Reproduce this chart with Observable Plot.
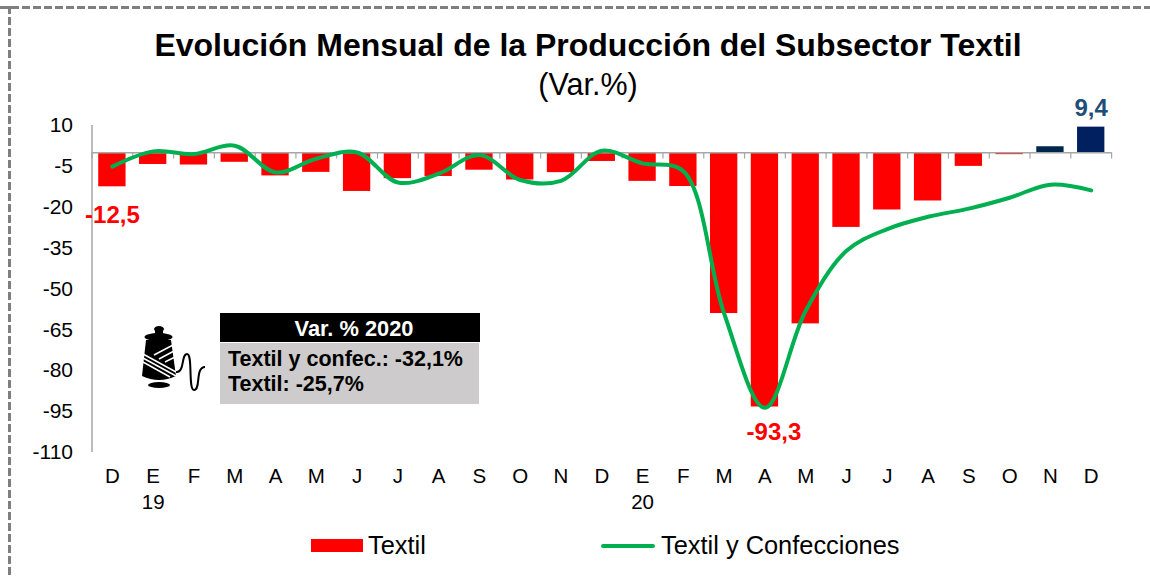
<!DOCTYPE html>
<html lang="es">
<head>
<meta charset="utf-8">
<script src="https://cdn.jsdelivr.net/npm/d3@7"></script>
<script src="https://cdn.jsdelivr.net/npm/@observablehq/plot@0.6"></script>
<style>
html,body{margin:0;padding:0;background:#fff;width:1150px;height:578px;overflow:hidden;font-family:"Liberation Sans",Arial,sans-serif;color:#000}
#page{position:relative;width:1150px;height:578px;overflow:hidden}
#head{position:absolute;left:0;top:0;width:1176px;height:100px;text-align:center}
#title{position:absolute;left:0;right:0;top:26px;font-size:32px;font-weight:700;line-height:38px}
#sub{position:absolute;left:0;right:0;top:66px;font-size:30.5px;line-height:36px}
#chart{position:absolute;left:0;top:100px}
.bt{position:absolute;left:0;width:1150px;height:3px;top:6px}
.bl{position:absolute;left:8px;top:6px;width:3px;height:572px}
#boxh{position:absolute;left:220px;top:313px;width:260px;height:29px;box-sizing:border-box;padding-left:8px;background:#000;color:#fff;font-weight:700;font-size:21.8px;line-height:31px;text-align:center;white-space:nowrap}
#boxb{position:absolute;left:220px;top:343px;width:259px;height:61px;background:#cdcbcb;font-weight:700;font-size:21.5px;line-height:25px;padding-left:8px;box-sizing:border-box;padding-top:4px;white-space:nowrap}
#icon{position:absolute;left:130px;top:320px}
#legend{position:absolute;left:0;top:525px;width:1150px;height:40px;font-size:25.4px}
#legend span{position:absolute;top:5px;line-height:30px;white-space:nowrap}
#legend i{position:absolute;display:block}
</style>
</head>
<body>
<div id="page">
  <svg class="bt" width="1150" height="3"><line x1="0" x2="1150" y1="1.5" y2="1.5" stroke="#7f7f7f" stroke-width="3" stroke-dasharray="8 3"/></svg>
  <svg class="bl" width="3" height="572"><line x1="1.5" x2="1.5" y1="0" y2="572" stroke="#7f7f7f" stroke-width="3" stroke-dasharray="8 3"/></svg>
  <div id="head">
    <div id="title">Evolución Mensual de la Producción del Subsector Textil</div>
    <div id="sub">(Var.%)</div>
  </div>
  <div id="chart"></div>
  <div id="boxh">Var. % 2020</div>
  <div id="boxb">Textil y confec.: -32,1%<br>Textil: -25,7%</div>
  <svg id="icon" width="80" height="75" viewBox="0 0 80 75">
    <ellipse cx="29" cy="9" rx="5" ry="3"/>
    <rect x="25" y="9" width="8" height="6"/>
    <ellipse cx="28.5" cy="17" rx="14" ry="4"/>
    <path d="M16 20 L41 20 L46 56 Q29 64 12 56 Z"/>
    <ellipse cx="29" cy="65" rx="11" ry="3"/>
    <g stroke="#fff" stroke-width="1.5" fill="none">
      <path d="M13 34 L46 52"/><path d="M13 38 L46 56"/><path d="M13 42 L40 57"/>
      <path d="M24 35 L43 25"/><path d="M29 39 L44 31"/><path d="M35 42 L45 37"/>
    </g>
    <path d="M46 52 C55 53 51 34 57 34 C63 34 58 70 64 70 C71 70 65 47 75 47" fill="none" stroke="#000" stroke-width="2"/>
  </svg>
  <div id="legend">
    <i style="left:311px;top:14px;width:52px;height:13px;background:#ff0000"></i>
    <span style="left:368px">Textil</span>
    <i style="left:601px;top:19px;width:54px;height:4px;background:#00b050;border-radius:2px"></i>
    <span style="left:661px">Textil y Confecciones</span>
  </div>
</div>
<script>
const months = ["D","E","F","M","A","M","J","J","A","S","O","N","D","E","F","M","A","M","J","J","A","S","O","N","D"];
const textil = [-12.5,-4.3,-4.5,-3.5,-8.5,-7.2,-14.2,-9.5,-8.7,-6.4,-10,-7.3,-3.2,-10.5,-12.4,-59,-93.3,-62.8,-27.4,-21,-17.7,-5,-0.7,2.2,9.4];
const textilConf = [-5.1,0.5,-0.5,2.6,-7.2,-2.2,0.1,-10.9,-7.7,-0.8,-10,-10.3,0.7,-3.9,-6.8,-59,-93.6,-58,-36,-28,-23.5,-20.5,-16.5,-11.7,-13.8];
const yTicks = [10,-5,-20,-35,-50,-65,-80,-95,-110];
const yearTicks = [{i:1,label:"19"},{i:13,label:"20"}];
const labelled = [0,16,24];

const table = months.map((m,i)=>({i,m,textil:textil[i],conf:textilConf[i]}));
const boundaries = d3.range(-0.5,25,1);
const fmt = v => String(v).replace(".",",");
const labelOffset = {0:{dx:0,dy:28,fill:"#ff0000"},16:{dx:9,dy:25,fill:"#ff0000"},24:{dx:0,dy:-19,fill:"#1f4e79"}};
const labelMarks = labelled.map(i => Plot.text([table[i]],{
  x:"i",y:"textil",text:d=>fmt(d.textil),
  dx:labelOffset[i].dx,dy:labelOffset[i].dy,
  fill:labelOffset[i].fill,fontSize:24,fontWeight:700
}));

const chart = Plot.plot({
  width:1150,height:415,
  marginLeft:91.5,marginRight:38.9,marginTop:25,marginBottom:63,
  style:{fontFamily:'"Liberation Sans",Arial,sans-serif',background:"transparent",color:"#000",overflow:"visible"},
  x:{type:"linear",domain:[-0.5,24.5]},
  y:{domain:[-110,10]},
  marks:[
    Plot.rect(table,{x1:d=>d.i-0.335,x2:d=>d.i+0.335,y1:0,y2:"textil",
      fill:d=>d.textil>=0?(d.i===23?"#00264d":"#002060"):"#ff0000"}),
    Plot.ruleX([-0.5],{y1:-110,y2:10,stroke:"#a6a6a6",strokeWidth:1.5,strokeOpacity:1}),
    Plot.ruleY([0],{x1:-0.5,x2:24.5,stroke:"#a6a6a6",strokeWidth:1.5,strokeOpacity:1}),
    Plot.ruleX(boundaries,{y1:0,y2:-2.3,stroke:"#a6a6a6",strokeWidth:1.2,strokeOpacity:1}),
    Plot.line(table,{x:"i",y:"conf",stroke:"#00b050",strokeWidth:4,curve:"catmull-rom"}),
    ...labelMarks,
    Plot.axisY({ticks:yTicks,tickSize:0,tickPadding:19,fontSize:21,label:null,tickFormat:d=>String(d)}),
    Plot.axisX({ticks:d3.range(0,25),tickSize:0,tickPadding:16,fontSize:20.5,label:null,tickFormat:d=>months[d]}),
    Plot.axisX({ticks:yearTicks.map(d=>d.i),tickSize:0,tickPadding:42,fontSize:20.5,label:null,
      tickFormat:d=>yearTicks.find(t=>t.i===d).label})
  ]
});
document.getElementById("chart").appendChild(chart);
</script>
</body>
</html>
